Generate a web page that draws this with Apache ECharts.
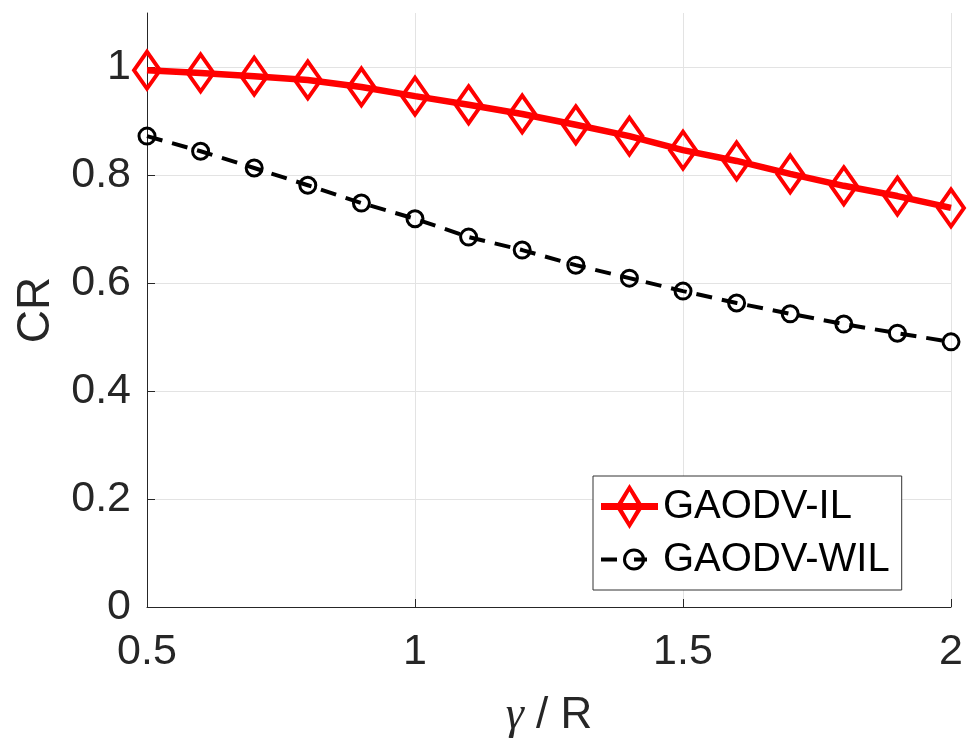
<!DOCTYPE html>
<html><head><meta charset="utf-8">
<script src="https://cdn.jsdelivr.net/npm/echarts@6/dist/echarts.min.js"></script>
<style>html,body{margin:0;padding:0;background:#fff}#c{width:979px;height:742px}</style>
</head><body><div id="c"></div>
<script>
const xValues = [0.5,0.6,0.7,0.8,0.9,1.0,1.1,1.2,1.3,1.4,1.5,1.6,1.7,1.8,1.9,2.0];
const gaodvIL = [0.994,0.989,0.983,0.976,0.963,0.946,0.930,0.913,0.893,0.872,0.846,0.826,0.802,0.780,0.761,0.739];
const gaodvWIL = [0.872,0.844,0.813,0.781,0.748,0.719,0.685,0.661,0.633,0.609,0.585,0.563,0.543,0.524,0.507,0.491];
const seriesNames = ['GAODV-IL','GAODV-WIL'];
const xTicks = [0.5,1,1.5,2];
const yTicks = [0,0.2,0.4,0.6,0.8,1];

const font = 'Liberation Sans, Arial, Helvetica, sans-serif';
const txt = '#262626';
const frame = 'M0 0 L0.01 0 Z M57 45 L56.99 45 Z ';
const iconIL = 'path://' + frame +
  'M0 19 H57 V26 H0 Z ' +
  'M28.5 0 L42.5 22.5 L28.5 45 L14.5 22.5 Z ' +
  'M28.5 7.5 L19.8 22.5 L28.5 37.5 L37.2 22.5 Z';
const iconWIL = 'path://' + frame +
  'M0 20.5 H16 V24.5 H0 Z ' +
  'M44 22.5 A11 11 0 1 1 22 22.5 A11 11 0 1 1 44 22.5 Z ' +
  'M41 22.5 A8 8 0 1 0 25 22.5 A8 8 0 1 0 41 22.5 Z ' +
  'M33 20.5 H46 V24.5 H33 Z';

const chart = echarts.init(document.getElementById('c'), null, {renderer:'canvas'});
chart.setOption({
  animation:false,
  backgroundColor:'#fff',
  grid:{left:147,right:28,top:13,bottom:135,containLabel:false,outerBoundsMode:'none'},
  xAxis:{type:'value',min:0.5,max:2,interval:0.5,
    name:'{g|γ} / R',nameLocation:'middle',nameGap:86,
    nameTextStyle:{fontFamily:font,fontSize:44,color:txt,rich:{g:{fontFamily:'Liberation Serif, serif',fontStyle:'italic',fontSize:46,color:txt}}},
    axisLine:{show:true,lineStyle:{color:txt,width:1}},
    axisTick:{show:true,inside:true,length:8,lineStyle:{color:txt}},
    axisLabel:{fontFamily:font,fontSize:43,color:txt,margin:24,formatter:v=>xTicks.includes(v)?String(v):''},
    splitLine:{show:true,lineStyle:{color:'#e3e3e3',width:1}}
  },
  yAxis:{type:'value',min:0,max:1.1,interval:0.2,
    name:'CR',nameLocation:'middle',nameGap:88,nameRotate:90,
    nameTextStyle:{fontFamily:font,fontSize:46,color:txt},
    axisLine:{show:true,lineStyle:{color:txt,width:1}},
    axisTick:{show:true,inside:true,length:8,lineStyle:{color:txt}},
    axisLabel:{fontFamily:font,fontSize:43,color:txt,margin:16,showMaxLabel:false,
      formatter:v=>yTicks.some(t=>Math.abs(t-v)<1e-9)?String(Math.round(v*10)/10):''},
    splitLine:{show:true,showMaxLine:false,lineStyle:{color:'#e3e3e3',width:1}}
  },
  legend:{show:true,left:593,top:476,orient:'vertical',
    backgroundColor:'#fff',borderColor:'#333',borderWidth:1,padding:[8,12,8,8],
    itemGap:8,itemWidth:57,itemHeight:45,symbolKeepAspect:true,
    textStyle:{fontFamily:font,fontSize:40,color:'#000'},
    data:[
      {name:seriesNames[0],icon:iconIL,itemStyle:{color:'#ff0000',borderWidth:0}},
      {name:seriesNames[1],icon:iconWIL,itemStyle:{color:'#000000',borderWidth:0}}
    ]},
  series:[
    {name:seriesNames[0],type:'line',data:xValues.map((x,i)=>[x,gaodvIL[i]]),
      symbol:'diamond',symbolSize:[26,37],showAllSymbol:true,
      lineStyle:{color:'#ff0000',width:6.5},
      itemStyle:{color:'rgba(255,255,255,0)',borderColor:'#ff0000',borderWidth:4},z:3},
    {name:seriesNames[1],type:'line',data:xValues.map((x,i)=>[x,gaodvWIL[i]]),
      symbol:'circle',symbolSize:16,showAllSymbol:true,
      lineStyle:{color:'#000',width:4,type:[16,10]},
      itemStyle:{color:'rgba(255,255,255,0)',borderColor:'#000',borderWidth:3},z:2}
  ]
});
</script></body></html>
